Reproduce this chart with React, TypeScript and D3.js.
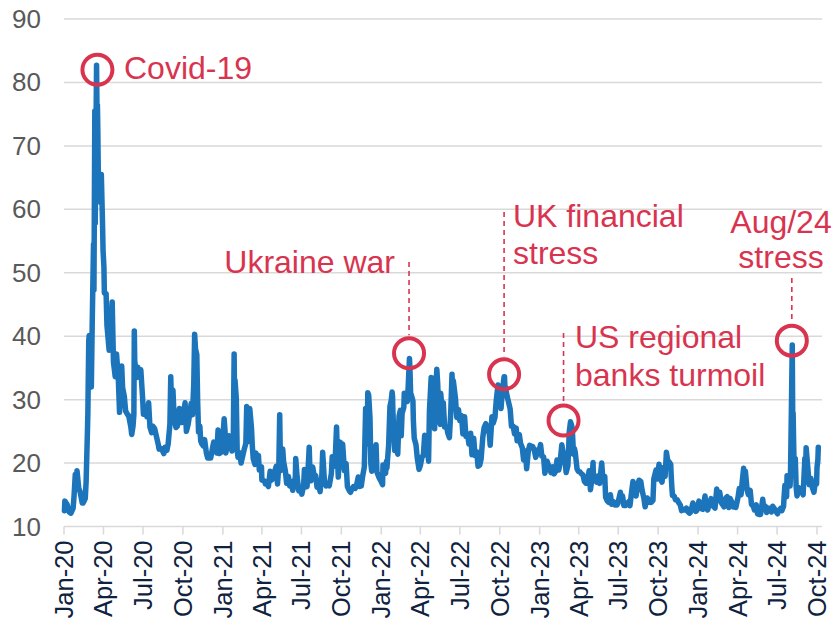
import React from 'react';
import * as d3 from 'd3';

// VIX index, approx. readings (date, close)
const dates2020 = ['2020-01-02','2020-01-03','2020-01-08','2020-01-13','2020-01-17','2020-01-22','2020-01-24','2020-01-27','2020-01-29','2020-01-31','2020-02-04','2020-02-07','2020-02-12','2020-02-14','2020-02-19','2020-02-21','2020-02-24','2020-02-25','2020-02-27','2020-02-28','2020-03-02','2020-03-04','2020-03-06','2020-03-09','2020-03-10','2020-03-12','2020-03-13','2020-03-16','2020-03-17','2020-03-18','2020-03-19','2020-03-20','2020-03-23','2020-03-24','2020-03-26','2020-03-27','2020-03-30','2020-03-31','2020-04-02','2020-04-03','2020-04-07','2020-04-09','2020-04-14','2020-04-17','2020-04-21','2020-04-24','2020-04-28','2020-04-30','2020-05-01','2020-05-05','2020-05-08','2020-05-13','2020-05-15','2020-05-19','2020-05-22','2020-05-27','2020-05-29','2020-06-03','2020-06-05','2020-06-08','2020-06-10','2020-06-11','2020-06-12','2020-06-15','2020-06-17','2020-06-19','2020-06-24','2020-06-26','2020-06-30','2020-07-02','2020-07-08','2020-07-10','2020-07-14','2020-07-17','2020-07-21','2020-07-24','2020-07-28','2020-07-31','2020-08-05','2020-08-07','2020-08-12','2020-08-14','2020-08-18','2020-08-21','2020-08-25','2020-08-28','2020-09-01','2020-09-03','2020-09-04','2020-09-08','2020-09-11','2020-09-15','2020-09-18','2020-09-21','2020-09-23','2020-09-25','2020-09-30','2020-10-02','2020-10-06','2020-10-09','2020-10-13','2020-10-16','2020-10-20','2020-10-23','2020-10-26','2020-10-28','2020-10-30','2020-11-02','2020-11-04','2020-11-06','2020-11-09','2020-11-11','2020-11-13','2020-11-17','2020-11-20','2020-11-24','2020-11-27','2020-12-01','2020-12-04','2020-12-08','2020-12-11','2020-12-15','2020-12-18','2020-12-21','2020-12-24','2020-12-28','2020-12-31'];
const values2020 = [12.5,14.0,13.5,12.3,12.1,12.9,14.6,18.2,16.4,18.8,16.0,15.5,13.7,13.7,14.4,17.1,25.0,27.9,39.2,40.1,33.4,32.0,41.9,54.5,47.3,75.5,57.8,82.7,75.9,76.5,72.0,66.0,61.6,61.7,61.0,65.5,57.1,53.5,50.9,46.8,46.7,41.7,37.8,38.2,45.4,35.9,33.6,34.2,37.2,33.6,28.0,35.3,31.9,30.5,28.2,27.6,27.5,25.7,24.5,25.8,27.6,40.8,36.1,34.4,33.5,35.1,33.8,34.7,30.4,27.7,28.1,27.3,29.5,25.7,24.8,25.8,25.4,24.5,23.0,22.2,22.3,22.1,21.5,22.5,22.0,23.0,26.1,33.6,30.8,31.5,26.9,25.6,25.8,27.8,28.6,26.4,26.4,27.6,29.5,25.0,26.1,27.4,29.4,27.6,32.5,40.3,38.0,37.1,29.6,24.9,25.8,23.5,23.1,22.7,23.7,21.6,20.8,20.8,20.8,22.3,23.3,22.3,21.6,25.2,21.5,21.7,22.8];

const dates2021 = ['2021-01-04','2021-01-06','2021-01-08','2021-01-12','2021-01-15','2021-01-19','2021-01-22','2021-01-25','2021-01-27','2021-01-28','2021-01-29','2021-02-01','2021-02-03','2021-02-05','2021-02-09','2021-02-12','2021-02-17','2021-02-19','2021-02-23','2021-02-25','2021-02-26','2021-03-01','2021-03-04','2021-03-08','2021-03-10','2021-03-12','2021-03-16','2021-03-18','2021-03-19','2021-03-23','2021-03-24','2021-03-26','2021-03-31','2021-04-01','2021-04-07','2021-04-09','2021-04-13','2021-04-16','2021-04-20','2021-04-23','2021-04-27','2021-04-30','2021-05-04','2021-05-07','2021-05-10','2021-05-12','2021-05-13','2021-05-14','2021-05-18','2021-05-19','2021-05-21','2021-05-25','2021-05-28','2021-06-01','2021-06-04','2021-06-08','2021-06-11','2021-06-15','2021-06-17','2021-06-18','2021-06-21','2021-06-25','2021-06-30','2021-07-02','2021-07-06','2021-07-08','2021-07-09','2021-07-14','2021-07-16','2021-07-19','2021-07-21','2021-07-23','2021-07-27','2021-07-30','2021-08-03','2021-08-06','2021-08-10','2021-08-13','2021-08-17','2021-08-19','2021-08-23','2021-08-27','2021-08-31','2021-09-03','2021-09-08','2021-09-10','2021-09-14','2021-09-17','2021-09-20','2021-09-22','2021-09-24','2021-09-28','2021-09-30','2021-10-04','2021-10-06','2021-10-08','2021-10-12','2021-10-15','2021-10-19','2021-10-22','2021-10-26','2021-10-29','2021-11-02','2021-11-05','2021-11-09','2021-11-12','2021-11-16','2021-11-19','2021-11-23','2021-11-26','2021-11-29','2021-11-30','2021-12-01','2021-12-03','2021-12-06','2021-12-08','2021-12-10','2021-12-14','2021-12-17','2021-12-20','2021-12-22','2021-12-27','2021-12-31'];
const values2021 = [27.0,25.1,21.6,23.3,24.3,23.2,21.9,23.2,37.2,30.2,33.1,30.2,22.0,20.9,21.6,20.0,21.5,22.1,23.1,28.9,28.0,23.4,28.6,25.5,22.6,20.7,19.8,21.6,21.0,20.3,21.2,18.9,19.4,17.3,17.2,16.7,16.7,16.3,18.7,17.3,17.6,18.6,19.5,16.7,19.7,27.6,23.1,18.8,21.3,22.2,20.2,18.8,16.8,17.9,16.4,17.1,15.7,17.0,17.8,20.7,17.9,15.6,15.8,15.1,16.4,19.0,16.2,16.3,18.5,22.5,17.9,17.2,19.4,18.2,18.0,16.2,16.8,15.5,17.9,21.7,17.2,16.4,16.5,16.4,18.3,21.0,19.5,20.8,25.7,20.9,17.8,23.3,23.1,23.0,21.0,18.8,19.9,16.3,15.7,15.4,16.0,16.3,16.0,16.5,17.8,16.3,16.4,17.9,19.4,28.6,23.0,27.2,31.1,30.7,27.2,19.9,18.7,21.9,21.6,22.9,18.6,17.7,17.2];

const dates2022 = ['2022-01-04','2022-01-05','2022-01-07','2022-01-11','2022-01-13','2022-01-14','2022-01-18','2022-01-21','2022-01-24','2022-01-26','2022-01-27','2022-01-28','2022-02-01','2022-02-03','2022-02-04','2022-02-08','2022-02-11','2022-02-14','2022-02-16','2022-02-18','2022-02-22','2022-02-23','2022-02-24','2022-02-28','2022-03-02','2022-03-04','2022-03-07','2022-03-08','2022-03-10','2022-03-11','2022-03-15','2022-03-16','2022-03-18','2022-03-22','2022-03-25','2022-03-29','2022-04-01','2022-04-05','2022-04-08','2022-04-11','2022-04-14','2022-04-18','2022-04-20','2022-04-22','2022-04-26','2022-04-27','2022-04-29','2022-05-02','2022-05-04','2022-05-05','2022-05-06','2022-05-09','2022-05-11','2022-05-13','2022-05-17','2022-05-18','2022-05-20','2022-05-24','2022-05-27','2022-06-01','2022-06-03','2022-06-07','2022-06-10','2022-06-13','2022-06-15','2022-06-16','2022-06-21','2022-06-24','2022-06-28','2022-07-01','2022-07-05','2022-07-08','2022-07-12','2022-07-15','2022-07-19','2022-07-22','2022-07-26','2022-07-29','2022-08-02','2022-08-05','2022-08-09','2022-08-12','2022-08-16','2022-08-19','2022-08-23','2022-08-26','2022-08-30','2022-09-02','2022-09-07','2022-09-09','2022-09-13','2022-09-16','2022-09-20','2022-09-23','2022-09-27','2022-09-29','2022-09-30','2022-10-04','2022-10-07','2022-10-11','2022-10-12','2022-10-13','2022-10-14','2022-10-18','2022-10-21','2022-10-25','2022-10-28','2022-11-01','2022-11-04','2022-11-08','2022-11-10','2022-11-15','2022-11-18','2022-11-22','2022-11-25','2022-11-29','2022-12-02','2022-12-06','2022-12-09','2022-12-13','2022-12-16','2022-12-20','2022-12-23','2022-12-28','2022-12-30'];
const values2022 = [16.6,19.7,18.8,18.4,20.3,19.2,22.8,28.9,29.9,31.2,30.5,27.7,22.0,24.4,23.2,21.4,27.4,28.3,24.3,27.8,28.8,31.0,30.3,30.2,29.7,32.0,36.5,35.1,30.2,30.8,29.8,26.7,23.9,22.9,20.8,19.0,19.6,21.0,21.2,24.4,22.7,22.2,20.3,28.2,33.5,31.6,33.4,32.3,25.4,31.2,30.2,34.8,32.6,28.9,26.1,31.0,29.4,29.5,25.7,25.7,24.8,24.0,27.8,34.0,29.6,33.0,30.2,27.2,28.4,26.7,27.5,24.6,27.3,24.2,24.5,23.0,24.7,21.3,23.9,21.2,21.8,19.5,19.7,20.6,24.1,25.6,26.2,25.5,24.6,22.8,27.3,26.3,27.2,29.9,32.3,31.8,31.6,28.6,31.4,33.6,33.6,31.9,32.0,30.5,29.7,28.5,25.8,25.8,24.6,25.5,23.5,24.5,23.1,22.4,20.5,21.9,19.1,22.0,22.8,22.6,22.6,21.9,20.9,22.1,21.7];

const dates2023 = ['2023-01-03','2023-01-06','2023-01-10','2023-01-13','2023-01-18','2023-01-20','2023-01-24','2023-01-27','2023-01-31','2023-02-03','2023-02-07','2023-02-10','2023-02-14','2023-02-17','2023-02-21','2023-02-24','2023-02-28','2023-03-03','2023-03-07','2023-03-09','2023-03-10','2023-03-13','2023-03-15','2023-03-17','2023-03-20','2023-03-22','2023-03-24','2023-03-28','2023-03-31','2023-04-04','2023-04-06','2023-04-11','2023-04-14','2023-04-18','2023-04-21','2023-04-25','2023-04-28','2023-05-02','2023-05-04','2023-05-05','2023-05-09','2023-05-12','2023-05-16','2023-05-19','2023-05-24','2023-05-26','2023-05-31','2023-06-02','2023-06-06','2023-06-09','2023-06-13','2023-06-16','2023-06-20','2023-06-23','2023-06-28','2023-06-30','2023-07-06','2023-07-07','2023-07-11','2023-07-14','2023-07-18','2023-07-21','2023-07-25','2023-07-28','2023-08-02','2023-08-04','2023-08-08','2023-08-11','2023-08-15','2023-08-18','2023-08-22','2023-08-25','2023-08-29','2023-09-01','2023-09-06','2023-09-08','2023-09-12','2023-09-15','2023-09-19','2023-09-21','2023-09-26','2023-09-29','2023-10-03','2023-10-06','2023-10-10','2023-10-13','2023-10-17','2023-10-20','2023-10-23','2023-10-26','2023-10-30','2023-10-31','2023-11-02','2023-11-03','2023-11-07','2023-11-10','2023-11-14','2023-11-17','2023-11-21','2023-11-24','2023-11-28','2023-12-01','2023-12-05','2023-12-08','2023-12-12','2023-12-15','2023-12-20','2023-12-22','2023-12-27','2023-12-29'];
const values2023 = [22.9,21.1,21.0,18.4,20.3,19.9,19.2,18.5,19.4,18.3,18.7,20.5,18.9,20.0,22.9,21.7,20.7,18.5,19.6,22.6,24.8,26.5,26.1,25.5,21.4,22.3,21.7,19.1,18.7,18.6,18.4,18.1,17.1,16.8,16.8,18.8,15.8,17.8,20.1,17.2,17.7,17.0,18.0,16.8,20.0,18.0,17.9,14.6,14.0,13.8,15.0,13.5,13.9,13.4,13.4,13.6,15.4,14.8,14.8,13.3,13.3,13.6,13.9,13.3,16.1,17.1,16.0,14.8,16.5,17.3,17.1,15.7,14.5,13.1,14.5,13.8,14.2,13.8,14.1,17.5,18.9,17.5,19.8,17.5,17.0,19.3,17.9,21.7,20.4,20.2,19.8,18.1,15.7,14.9,14.8,14.2,14.2,13.8,13.4,12.5,12.7,12.6,12.9,12.4,12.1,12.3,13.7,13.0,12.4,12.5];

const dates2024 = ['2024-01-03','2024-01-05','2024-01-09','2024-01-12','2024-01-17','2024-01-19','2024-01-23','2024-01-26','2024-01-31','2024-02-02','2024-02-06','2024-02-09','2024-02-13','2024-02-16','2024-02-20','2024-02-23','2024-02-27','2024-03-01','2024-03-05','2024-03-08','2024-03-12','2024-03-15','2024-03-19','2024-03-22','2024-03-26','2024-03-28','2024-04-02','2024-04-05','2024-04-09','2024-04-12','2024-04-15','2024-04-16','2024-04-19','2024-04-23','2024-04-26','2024-04-30','2024-05-03','2024-05-07','2024-05-10','2024-05-14','2024-05-17','2024-05-21','2024-05-24','2024-05-29','2024-05-31','2024-06-04','2024-06-07','2024-06-11','2024-06-14','2024-06-18','2024-06-21','2024-06-25','2024-06-28','2024-07-02','2024-07-05','2024-07-10','2024-07-12','2024-07-16','2024-07-17','2024-07-19','2024-07-23','2024-07-24','2024-07-26','2024-07-30','2024-07-31','2024-08-01','2024-08-02','2024-08-05','2024-08-06','2024-08-07','2024-08-08','2024-08-09','2024-08-12','2024-08-14','2024-08-16','2024-08-20','2024-08-23','2024-08-27','2024-08-30','2024-09-03','2024-09-05','2024-09-06','2024-09-10','2024-09-13','2024-09-17','2024-09-20','2024-09-24','2024-09-27','2024-09-30','2024-10-01','2024-10-03','2024-10-04'];
const values2024 = [14.0,13.4,12.8,12.7,14.8,13.3,12.6,13.3,14.4,13.9,13.1,12.9,15.9,14.2,15.4,13.8,13.4,13.1,14.5,14.7,13.0,14.4,13.8,13.1,13.2,13.0,14.6,16.0,15.0,17.3,19.2,18.4,18.7,15.7,15.0,15.7,13.5,13.2,12.6,13.4,12.0,11.9,11.9,14.3,12.9,13.2,12.2,12.9,12.7,12.3,13.2,12.8,12.4,12.0,12.5,12.9,12.5,13.2,14.5,16.5,14.7,18.0,16.4,17.7,16.4,18.6,23.4,38.6,27.7,27.9,23.8,20.4,20.7,16.2,14.8,16.1,15.9,15.4,15.0,20.7,19.9,22.4,19.1,16.6,17.6,16.2,15.4,17.0,16.7,19.3,20.5,22.5];

const yTicks = [10, 20, 30, 40, 50, 60, 70, 80, 90];
const xTickDates = ['2020-01-01','2020-04-01','2020-07-01','2020-10-01','2021-01-01','2021-04-01','2021-07-01','2021-10-01','2022-01-01','2022-04-01','2022-07-01','2022-10-01','2023-01-01','2023-04-01','2023-07-01','2023-10-01','2024-01-01','2024-04-01','2024-07-01','2024-10-01'];
const xTickLabels = ['Jan-20','Apr-20','Jul-20','Oct-20','Jan-21','Apr-21','Jul-21','Oct-21','Jan-22','Apr-22','Jul-22','Oct-22','Jan-23','Apr-23','Jul-23','Oct-23','Jan-24','Apr-24','Jul-24','Oct-24'];

// annotations (event date, level circled)
const annoNames = ['covid', 'ukraine', 'uk', 'us', 'aug'];
const annoDates = ['2020-03-18', '2022-03-06', '2022-10-11', '2023-02-25', '2024-08-04'];
const annoValues = [82.0, 37.3, 34.0, 26.7, 39.3];

const parse = d3.utcParse('%Y-%m-%d');

const BLUE = '#1c74bb';
const RED = '#d9344f';
const FONT = '"Liberation Sans", Arial, Helvetica, sans-serif';

export default function App() {
  const W = 833, H = 628;
  const left = 64, right = 817, top = 19, bottom = 526.5;
  const x = d3.scaleUtc().domain([parse('2020-01-01')!, parse('2024-10-01')!]).range([left, right]);
  const y = d3.scaleLinear().domain([10, 90]).range([bottom, top]);

  const allDates = [...dates2020, ...dates2021, ...dates2022, ...dates2023, ...dates2024];
  const allValues = [...values2020, ...values2021, ...values2022, ...values2023, ...values2024];
  const data = allDates.map((d, i) => ({ date: parse(d)!, v: allValues[i] }));
  const line = d3.line<{ date: Date; v: number }>().x(d => x(d.date)).y(d => y(d.v));

  const anno = annoNames.map((n, i) => ({ name: n, cx: x(parse(annoDates[i])!), cy: y(annoValues[i]) }));
  const A: Record<string, { cx: number; cy: number }> = {};
  anno.forEach(a => { A[a.name] = a; });
  const R = 15;
  const fs = 32;

  return (
    <svg width={W} height={H} style={{ position: 'absolute', left: 0, top: 0, background: '#fff' }} fontFamily={FONT}>
      {/* gridlines */}
      {yTicks.map(t => (
        <line key={t} x1={left} x2={822} y1={y(t)} y2={y(t)} stroke="#d9d9d9" strokeWidth={1.5} />
      ))}
      {/* x axis ticks */}
      {xTickDates.map((d, i) => {
        const xx = x(parse(d)!);
        return (
          <g key={d}>
            <line x1={xx} x2={xx} y1={bottom} y2={bottom + 8} stroke="#d9d9d9" strokeWidth={1.5} />
            <text transform={`translate(${xx + 9},${bottom + 14}) rotate(-90)`} textAnchor="end" fontSize={25.5} fill="#0f2340">{xTickLabels[i]}</text>
          </g>
        );
      })}
      {/* y labels */}
      {yTicks.map(t => (
        <text key={t} x={41} y={y(t) + 9} textAnchor="end" fontSize={26} fill="#595959">{t}</text>
      ))}
      {/* series */}
      <path d={line(data)!} fill="none" stroke={BLUE} strokeWidth={5.5} strokeLinejoin="round" strokeLinecap="round" />

      {/* annotations */}
      <g fill="none" stroke={RED}>
        {anno.map(a => <circle key={a.name} cx={a.cx} cy={a.cy} r={R} strokeWidth={4} />)}
        <line x1={A.ukraine.cx} x2={A.ukraine.cx} y1={262} y2={A.ukraine.cy - R - 3} strokeWidth={1.6} strokeDasharray="5,4" />
        <line x1={A.uk.cx} x2={A.uk.cx} y1={212} y2={A.uk.cy - R - 3} strokeWidth={1.6} strokeDasharray="5,4" />
        <line x1={A.us.cx} x2={A.us.cx} y1={333} y2={A.us.cy - R - 3} strokeWidth={1.6} strokeDasharray="5,4" />
        <line x1={A.aug.cx} x2={A.aug.cx} y1={278} y2={A.aug.cy - R - 3} strokeWidth={1.6} strokeDasharray="5,4" />
      </g>
      <g fill={RED} fontSize={fs}>
        <text x={124} y={79}>Covid-19</text>
        <text x={395} y={273} textAnchor="end">Ukraine war</text>
        <text x={513} y={227}>UK financial</text>
        <text x={513} y={264}>stress</text>
        <text x={575} y={348}>US regional</text>
        <text x={575} y={386}>banks turmoil</text>
        <text x={781} y={233} textAnchor="middle">Aug/24</text>
        <text x={781} y={268} textAnchor="middle">stress</text>
      </g>
    </svg>
  );
}
